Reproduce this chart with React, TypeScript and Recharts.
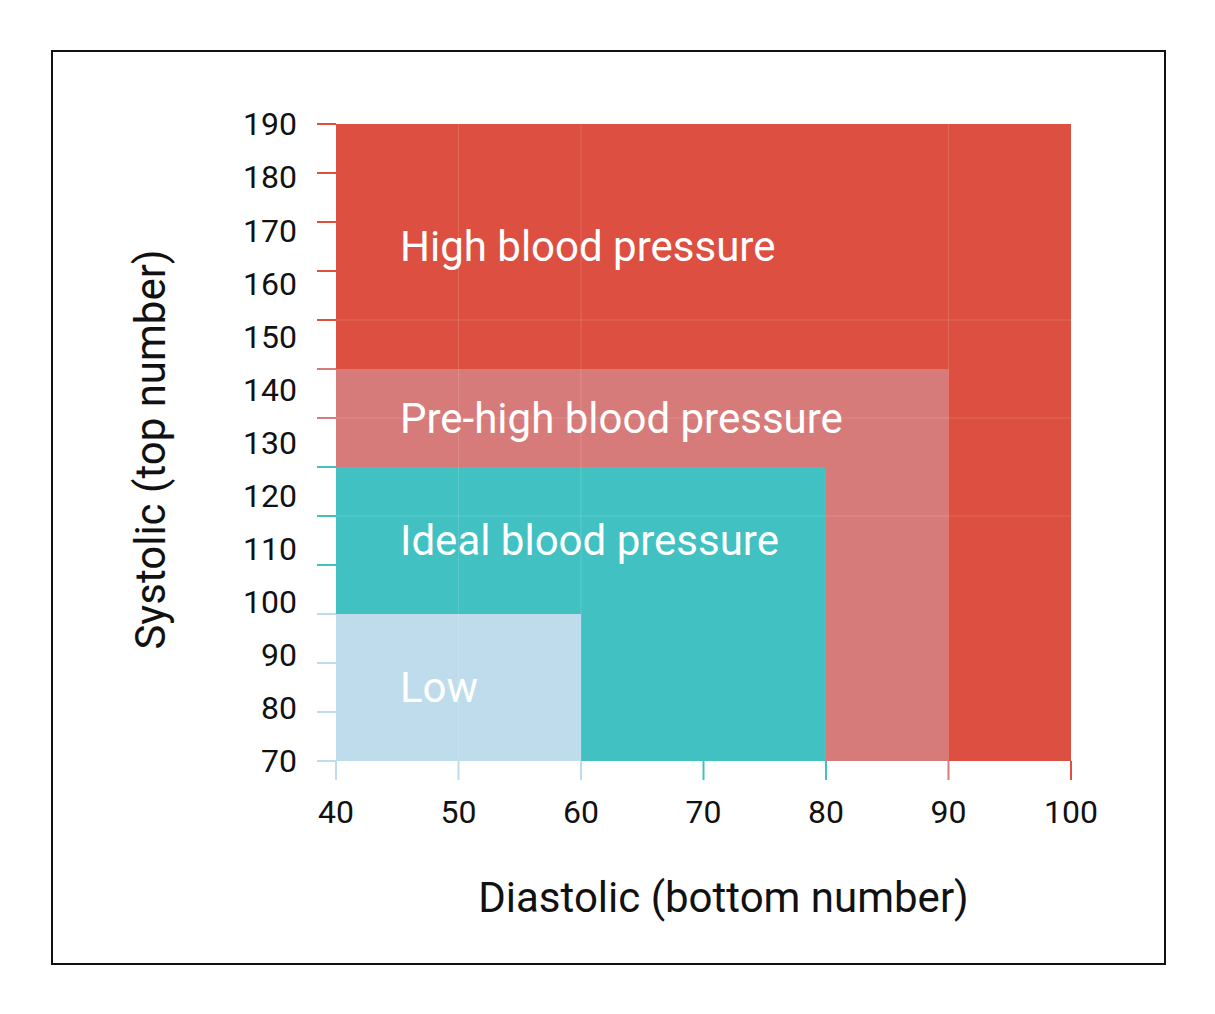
import {
  ComposedChart,
  ReferenceArea,
  ReferenceLine,
  Scatter,
  XAxis,
  YAxis,
} from 'recharts'

// zones, drawn largest first; the smaller ones sit on top
const zoneNames = [
  'High blood pressure',
  'Pre-high blood pressure',
  'Ideal blood pressure',
  'Low',
]
const zoneDiastolicMax = [100, 90, 80, 60]
// top of each zone, counted in tick marks of the left axis (14 marks, 0..13)
const zoneTopRow = [13, 8, 6, 3]

const diastolicTicks = [40, 50, 60, 70, 80, 90, 100]
const systolicTicks = [70, 80, 90, 100, 110, 120, 130, 140, 150, 160, 170, 180, 190]
const tickRows = [0, 1, 2, 3, 4, 5, 6, 7, 8, 9, 10, 11, 12, 13]

const gridRows = [5, 7, 9]
const gridDiastolic = [50, 60, 90]

const zoneColors = ['#DC4F41', '#D77B7A', '#41C1C2', '#BEDCEC']
const textColor = '#111'

// zone corners, only so the axes have something to scale
const zoneCorners = zoneNames.map((name, i) => ({
  name,
  diastolic: zoneDiastolicMax[i],
  row: zoneTopRow[i],
}))

// colour of the smallest zone that still reaches the value
const colorFor = (value: number, limits: number[]): string => {
  for (let i = limits.length - 1; i >= 0; i--) {
    if (value <= limits[i]) return zoneColors[i]
  }
  return zoneColors[0]
}

const RowTick = (props: any) => {
  const { x, y, payload } = props
  return (
    <line
      x1={x - 19}
      x2={x}
      y1={y}
      y2={y}
      stroke={colorFor(payload.value, zoneTopRow)}
      strokeWidth={2}
    />
  )
}

const DiastolicTick = (props: any) => {
  const { x, y, payload } = props
  return (
    <g>
      <line
        x1={x}
        x2={x}
        y1={y}
        y2={y + 19}
        stroke={colorFor(payload.value, zoneDiastolicMax)}
        strokeWidth={2}
      />
      <text
        x={x}
        y={y + 51}
        dy="0.355em"
        textAnchor="middle"
        fontSize={32}
        fill={textColor}
      >
        {payload.value}
      </text>
    </g>
  )
}

const SystolicTitle = (props: any) => {
  const { viewBox } = props
  const x = viewBox.x + 50
  const y = viewBox.y + viewBox.height / 2 + 7
  return (
    <text
      x={x}
      y={y}
      dy="0.355em"
      transform={`rotate(-90, ${x}, ${y})`}
      textAnchor="middle"
      fontSize={42}
      fill={textColor}
    >
      Systolic (top number)
    </text>
  )
}

const NoShape = () => <g />

export default function App() {
  return (
    <div style={{ fontFamily: 'Roboto, sans-serif' }}>
      <div
        style={{
          position: 'absolute',
          left: 51,
          top: 50,
          width: 1115,
          height: 915,
          border: '2px solid #111',
          boxSizing: 'border-box',
        }}
      />
      <div style={{ position: 'absolute', left: 0, top: 0 }}>
        <ComposedChart
          width={1215}
          height={1014}
          data={zoneCorners}
          margin={{ top: 124, right: 144, bottom: 0, left: 100 }}
        >
          <XAxis
            type="number"
            dataKey="diastolic"
            domain={[40, 100]}
            allowDataOverflow
            ticks={diastolicTicks}
            interval={0}
            height={253}
            tickSize={0}
            tickMargin={0}
            axisLine={false}
            tickLine={false}
            tick={<DiastolicTick />}
            label={{
              value: 'Diastolic (bottom number)',
              position: 'insideTop',
              offset: 121,
              dx: 20,
              fontSize: 42,
              fill: textColor,
            }}
          />
          <YAxis
            yAxisId="sys"
            type="number"
            domain={[70, 190]}
            allowDataOverflow
            ticks={systolicTicks}
            interval={0}
            width={236}
            tickSize={0}
            tickMargin={39}
            axisLine={false}
            tickLine={false}
            tick={{ fontSize: 32, fill: textColor }}
            label={<SystolicTitle />}
          />
          <YAxis
            yAxisId="rows"
            type="number"
            dataKey="row"
            domain={[0, 13]}
            allowDataOverflow
            ticks={tickRows}
            interval={0}
            mirror
            width={1}
            tickSize={0}
            tickMargin={0}
            axisLine={false}
            tickLine={false}
            tick={<RowTick />}
          />
          <Scatter
            yAxisId="rows"
            dataKey="row"
            shape={<NoShape />}
            isAnimationActive={false}
          />
          {zoneNames.map((name, i) => (
            <ReferenceArea
              key={`zone-${name}`}
              yAxisId="rows"
              x1={40}
              x2={zoneDiastolicMax[i]}
              y1={0}
              y2={zoneTopRow[i]}
              fill={zoneColors[i]}
              fillOpacity={1}
              stroke="none"
            />
          ))}
          {gridRows.map((r) => (
            <ReferenceLine
              key={`grid-row-${r}`}
              yAxisId="rows"
              y={r}
              stroke="#fff"
              strokeOpacity={0.14}
            />
          ))}
          {gridDiastolic.map((d) => (
            <ReferenceLine
              key={`grid-d-${d}`}
              yAxisId="rows"
              x={d}
              stroke="#fff"
              strokeOpacity={0.14}
            />
          ))}
          {zoneNames.map((name, i) => (
            <ReferenceArea
              key={`label-${name}`}
              yAxisId="rows"
              x1={40}
              x2={zoneDiastolicMax[i]}
              y1={i + 1 < zoneTopRow.length ? zoneTopRow[i + 1] : 0}
              y2={zoneTopRow[i]}
              fill="none"
              stroke="none"
              label={{
                value: name,
                position: 'insideLeft',
                offset: 64,
                fontSize: 42,
                fill: '#fff',
              }}
            />
          ))}
        </ComposedChart>
      </div>
    </div>
  )
}
